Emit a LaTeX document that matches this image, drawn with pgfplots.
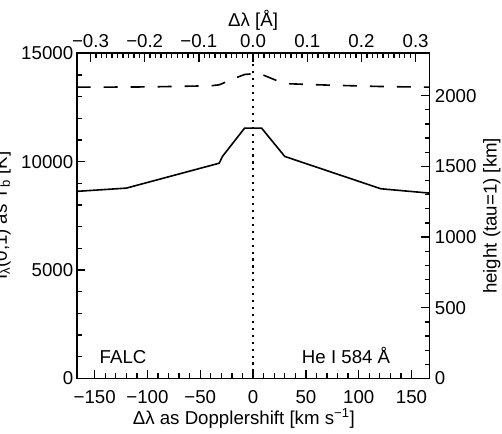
\documentclass[border=0pt]{standalone}
\usepackage{fontspec}
\setmainfont{Liberation Sans}
\usepackage{pgfplots}
\pgfplotsset{compat=1.18}
\begin{document}
\begin{tikzpicture}[font=\fontsize{14}{17}\selectfont]
\begin{axis}[
  at={(0,0)}, anchor=south west,
  scale only axis, width=264.6pt, height=243.9pt,
  xmin=-167, xmax=167, ymin=0, ymax=15000,
  scaled ticks=false,
  axis line style={line width=1.3pt},
  tick align=inside,
  major tick length=6.5pt, minor tick length=4pt,
  tick style={line width=1pt, black},
  xtick pos=left, ytick pos=left,
  xtick={-150,-100,-50,0,50,100,150},
  xticklabels={−150,−100,−50,0,50,100,150},
  minor x tick num=4,
  ytick={0,5000,10000,15000},
  yticklabels={0,5000,10000,15000},
  minor y tick num=4,
  xticklabel style={yshift=-5.3pt},
  yticklabel style={xshift=0.9pt},
  xlabel={Δλ as Dopplershift [km s\textsuperscript{−1}]},
  ylabel={I\textsubscript{λ}(0,1) as T\textsubscript{b} [K]},
  every axis x label/.style={at={(axis description cs:0.474,-0.140)}, anchor=base},
  every axis y label/.style={at={(axis description cs:-0.1976,0.5)}, anchor=base, rotate=90},
]
\addplot[black, line width=1.2pt, line join=round] coordinates {
  (-167,8630) (-120,8780) (-32,9930) (-29,10240) (-8,11550) (8,11550)
  (30,10240) (121,8750) (167,8550)
};
\addplot[black, line width=1.2pt, dash pattern=on 1.6pt off 3.6pt] coordinates {
  (0,0) (0,15000)
};
\node[anchor=base west] at (axis description cs:0.052,0.0467) {FALC};
\node[anchor=base east] at (axis description cs:0.902,0.0467) {He I 584 Å};
\end{axis}
\begin{axis}[
  at={(0,0)}, anchor=south west,
  scale only axis, width=264.6pt, height=243.9pt,
  xmin=-0.3255, xmax=0.3255, ymin=0, ymax=2300,
  scaled ticks=false,
  axis line style={line width=1.3pt},
  tick align=inside,
  major tick length=6.5pt, minor tick length=3.5pt,
  tick style={line width=1pt, black},
  xtick pos=right, ytick pos=right,
  xticklabel pos=right, yticklabel pos=right,
  xtick={-0.3,-0.2,-0.1,0,0.1,0.2,0.3},
  xticklabels={−0.3,−0.2,−0.1,0.0,0.1,0.2,0.3},
  minor x tick num=9,
  ytick={0,500,1000,1500,2000},
  yticklabels={0,500,1000,1500,2000},
  minor y tick num=4,
  xticklabel style={yshift=1pt},
  yticklabel style={xshift=0.6pt},
  xlabel={Δλ [Å]},
  ylabel={height (tau=1) [km]},
  every axis x label/.style={at={(axis description cs:0.5,1.081)}, anchor=base},
  every axis y label/.style={at={(axis description cs:1.19,0.5)}, anchor=base, rotate=90},
]
\addplot[black, line width=1.2pt, dash pattern=on 10.5pt off 9.75pt, line join=round] coordinates {
  (-0.3255,2060) (-0.1949,2062) (-0.0780,2070) (-0.0624,2077) (-0.0273,2133)
  (-0.0156,2150) (0,2155) (0.0175,2148) (0.0448,2105) (0.0682,2084)
  (0.1364,2075) (0.2339,2065) (0.3255,2060)
};
\end{axis}
\pgfresetboundingbox
\path[use as bounding box] (-57.5pt,-40.9pt) rectangle (319pt,283.85pt);
\end{tikzpicture}
\end{document}
